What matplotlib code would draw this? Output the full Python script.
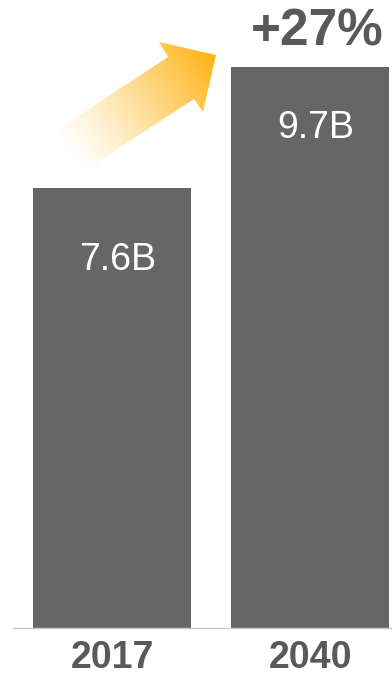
import numpy as np
import matplotlib
matplotlib.use("Agg")
import matplotlib.pyplot as plt
from matplotlib.patches import Polygon

years = ["2017", "2040"]
population = [7.6, 9.7]  # milliards
labels = ["7.6B", "9.7B"]
growth = "+27%"

bar_col = "#666666"
txt_col = "#595959"
orange = np.array([255, 181, 25]) / 255

plt.rcParams['font.family'] = ['Liberation Sans', 'DejaVu Sans']

W, H = 392, 675
fig = plt.figure(figsize=(W / 100, H / 100), dpi=100)
ax = fig.add_axes([13 / W, 47 / H, 1 - 13 / W, 628 / H])

x = np.arange(len(years))
ax.bar(x, population, width=0.8, color=bar_col, zorder=2)
ax.set_xlim(-0.5, 1.414)
ax.set_ylim(0, 10.85)

for s in ["top", "right", "left"]:
    ax.spines[s].set_visible(False)
ax.spines["bottom"].set_color("#c8c8c8")
ax.spines["bottom"].set_linewidth(1)
ax.set_yticks([])
ax.set_xticks(x, years)
ax.tick_params(axis="x", length=0, pad=9, labelsize=27, labelcolor=txt_col)
for t in ax.get_xticklabels():
    t.set_fontweight("bold")

# valeurs dans les barres
offs = [-52, -44]
for xi, v, lab, o in zip(x, population, labels, offs):
    ax.annotate(lab, (xi, v), xytext=(4, o), textcoords="offset points",
                ha="center", va="center", color="white", fontsize=27)

# croissance au dessus de la 2e barre
ax.annotate(growth, (x[1], population[1]), xytext=(5, 25), textcoords="offset points",
            ha="center", va="center", color=txt_col, fontsize=37, fontweight="bold")

# flèche en dégradé (repère en pixels)
ov = fig.add_axes([0, 0, 1, 1], zorder=5)
ov.set_xlim(0, W)
ov.set_ylim(H, 0)
ov.axis("off")
ov.patch.set_alpha(0)

pts = [(55, 131), (168, 57), (159, 42), (216, 55), (203, 112), (194, 99), (81, 173)]
poly = Polygon(pts, closed=True, facecolor="none", edgecolor="none")
ov.add_patch(poly)

u = np.array([35.0, -23.0])
u /= np.linalg.norm(u)
start = np.array([68.0, 152.0])
gx, gy = np.meshgrid(np.arange(40, 230), np.arange(30, 185))
t = ((gx - start[0]) * u[0] + (gy - start[1]) * u[1]) / 170.0
t = np.clip(t, 0, 1)
img = np.zeros(gx.shape + (4,))
img[..., :3] = orange
img[..., 3] = t ** 1.2
im = ov.imshow(img, extent=(40, 230, 185, 30), origin="upper", interpolation="bilinear")
im.set_clip_path(poly)

fig.savefig("out.png", dpi=100)
